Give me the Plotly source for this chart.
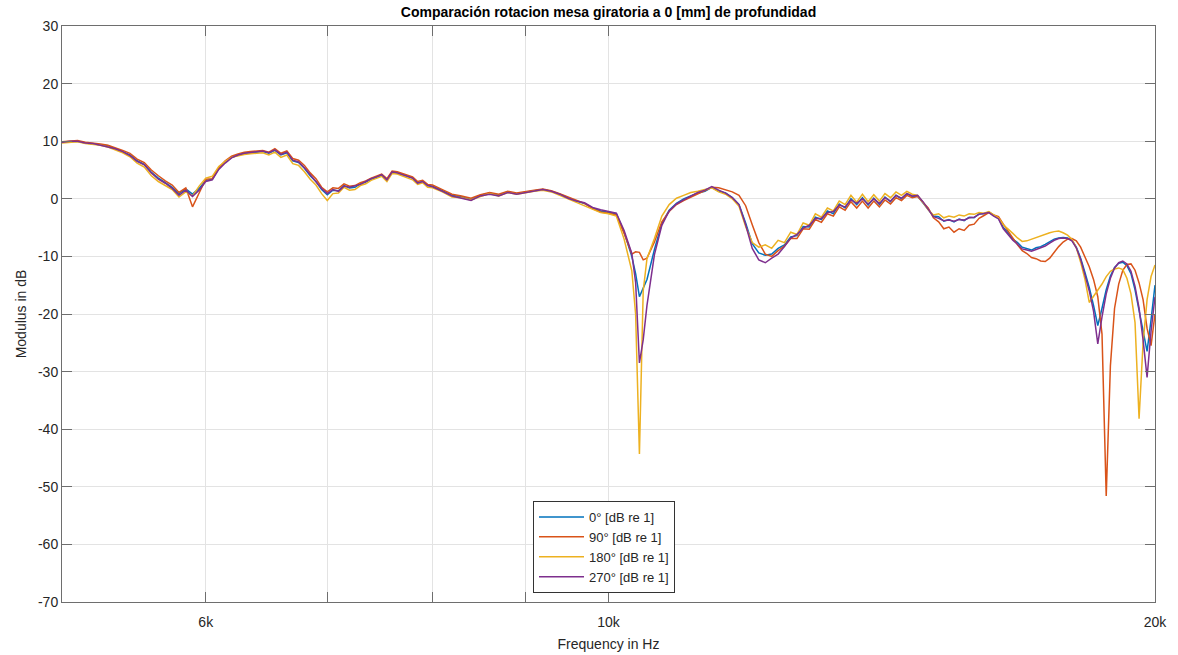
import plotly.graph_objects as go

# ---------------- data ----------------
freq_hz = [
    # 5000 - 8000 Hz
    5000, 5050, 5100, 5150, 5200, 5250, 5300, 5350, 5400, 5450,
    5500, 5550, 5600, 5650, 5700, 5750, 5800, 5850, 5900, 5950,
    6000, 6050, 6100, 6150, 6200, 6250, 6300, 6350, 6400, 6450,
    6500, 6550, 6600, 6650, 6700, 6750, 6800, 6850, 6900, 6950,
    7000, 7050, 7100, 7150, 7200, 7250, 7300, 7350, 7400, 7450,
    7500, 7550, 7600, 7650, 7700, 7750, 7800, 7850, 7900, 7950,
    8000,
    # 8100 - 10000 Hz
    8100, 8200, 8300, 8400, 8500, 8600, 8700, 8800, 8900, 9000,
    9100, 9200, 9300, 9400, 9500, 9600, 9700, 9800, 9900, 10000,
    # 10100 - 20000 Hz
    10100, 10200, 10300, 10350, 10400, 10450, 10500, 10600, 10700, 10800,
    10900, 11000, 11100, 11200, 11300, 11400, 11500, 11600, 11700, 11800,
    11900, 12000, 12100, 12200, 12300, 12400, 12500, 12600, 12700, 12800,
    12900, 13000, 13100, 13200, 13300, 13400, 13500, 13600, 13700, 13800,
    13900, 14000, 14100, 14200, 14300, 14400, 14500, 14600, 14700, 14800,
    14900, 15000, 15100, 15200, 15300, 15400, 15500, 15600, 15700, 15800,
    15900, 16000, 16100, 16200, 16300, 16400, 16500, 16600, 16700, 16800,
    16900, 17000, 17100, 17200, 17300, 17400, 17500, 17600, 17700, 17800,
    17900, 18000, 18100, 18200, 18300, 18400, 18500, 18600, 18700, 18800,
    18900, 19000, 19100, 19200, 19300, 19400, 19500, 19600, 19700, 19800,
    19900, 20000,
]

deg0_db = [
    9.8, 9.9, 10.0, 9.7, 9.6, 9.4, 9.2, 8.7, 8.2, 7.6,
    6.6, 6.0, 4.6, 3.6, 2.8, 2.0, 0.9, 1.7, 0.8, 1.8,
    3.2, 3.4, 5.3, 6.4, 7.2, 7.6, 7.9, 8.0, 8.1, 8.2,
    7.9, 8.4, 7.6, 8.0, 6.6, 6.3, 5.3, 4.0, 3.0, 1.6,
    0.7, 1.5, 1.4, 2.3, 1.9, 2.0, 2.6, 2.9, 3.4, 3.8,
    4.1, 3.2, 4.6, 4.5, 4.2, 4.0, 3.6, 2.8, 3.0, 2.3,
    2.2,
    1.4, 0.6, 0.3, -0.1, 0.6, 1.0, 0.6, 1.2, 0.9, 1.2,
    1.4, 1.6, 1.3, 0.8, 0.2, -0.4, -0.8, -1.6, -2.1, -2.3,
    -2.6, -5.8, -10.0, -13.0, -17.0, -15.5, -14.0, -8.8, -4.3, -2.0,
    -0.8, 0.0, 0.5, 1.0, 1.3, 2.0, 1.3, 1.0, 0.2, -1.0,
    -4.2, -7.8, -9.4, -9.8, -9.6, -8.6, -8.0, -6.6, -6.4, -4.8,
    -4.9, -3.2, -3.6, -2.1, -2.6, -0.9, -1.6, 0.0, -1.0, 0.2,
    -1.1, 0.1, -1.0, 0.3, -0.5, 0.6, 0.0, 0.9, 0.4, 0.5,
    -0.7, -1.8, -3.0, -3.1, -3.9, -3.6, -4.0, -3.5, -3.8, -3.2,
    -3.3, -2.6, -2.6, -2.3, -2.9, -3.4, -5.0, -5.9, -7.0, -7.6,
    -8.4, -8.6, -8.9, -8.5, -8.3, -7.9, -7.5, -7.0, -6.8, -6.7,
    -6.8, -7.2, -8.4, -10.3, -12.8, -15.4, -18.5, -22.0, -19.0, -15.8,
    -13.4, -11.9, -11.2, -11.0, -11.6, -13.0, -15.8, -19.5, -23.0, -26.5,
    -21.0, -15.0,
]

deg90_db = [
    9.9, 10.0, 10.1, 9.8, 9.7, 9.5, 9.3, 8.9, 8.4, 7.9,
    6.9, 6.3, 5.0, 4.0, 3.1, 2.4, 1.1, 1.9, -1.4, 1.0,
    3.4, 3.5, 5.4, 6.6, 7.4, 7.8, 8.1, 8.2, 8.3, 8.4,
    8.1, 8.7, 7.9, 8.3, 7.0, 6.7, 5.8, 4.5, 3.5, 2.0,
    1.2, 1.9, 1.8, 2.6, 2.2, 2.3, 2.8, 3.1, 3.6, 4.0,
    4.3, 3.5, 4.8, 4.7, 4.4, 4.2, 3.8, 3.0, 3.2, 2.5,
    2.4,
    1.6, 0.8, 0.5, 0.1, 0.7, 1.1, 0.8, 1.3, 1.0, 1.3,
    1.5, 1.7, 1.4, 0.9, 0.3, -0.3, -0.8, -1.7, -2.3, -2.5,
    -2.8, -6.0, -9.6, -9.2, -9.3, -10.6, -10.3, -7.5, -4.0, -2.2,
    -1.0, -0.3, 0.3, 0.9, 1.4, 2.0, 1.9, 1.6, 1.2, 0.6,
    -1.2, -4.5, -7.6, -9.6, -10.0, -9.0, -8.2, -6.9, -6.9, -5.2,
    -5.3, -3.6, -4.1, -2.6, -3.0, -1.4, -2.0, -0.5, -1.6, -0.4,
    -1.6, -0.4, -1.4, -0.2, -0.9, 0.2, -0.3, 0.6, 0.2, 0.4,
    -0.6, -1.6, -3.3, -4.0, -5.2, -4.9, -5.8, -5.2, -5.5, -4.6,
    -4.4, -3.4, -2.9, -2.4, -2.8, -3.1, -4.4, -5.6, -7.0, -8.0,
    -9.0, -9.5, -10.2, -10.4, -10.8, -10.9, -10.3, -9.2, -8.3, -7.5,
    -7.0, -6.9, -7.3, -8.4, -10.0, -11.8, -14.0, -17.0, -23.5, -51.6,
    -29.0, -19.0, -14.8, -12.4, -11.4, -11.3, -12.4, -14.6, -17.5, -22.5,
    -25.5, -20.0,
]

deg180_db = [
    9.7, 9.8, 9.9, 9.6, 9.5, 9.3, 9.0, 8.5, 8.0, 7.3,
    6.2, 5.5, 4.0, 3.0, 2.3, 1.6, 0.3, 1.2, 0.5, 2.2,
    3.6, 3.9, 5.6, 6.5, 7.2, 7.5, 7.7, 7.8, 7.9, 8.0,
    7.6, 8.1, 7.2, 7.6, 6.1, 5.8, 4.7, 3.4, 2.4, 0.9,
    -0.3, 0.9, 1.0, 2.0, 1.5, 1.6, 2.3, 2.6, 3.2, 3.6,
    3.9, 3.0, 4.4, 4.3, 4.0, 3.7, 3.3, 2.5, 2.8, 2.0,
    1.9,
    1.2, 0.3, 0.2, -0.2, 0.4, 0.9, 0.5, 1.1, 0.8, 1.1,
    1.3, 1.5, 1.2, 0.6, 0.0, -0.7, -1.2, -1.9, -2.4, -2.6,
    -3.0, -7.0, -12.5, -20.0, -44.3, -16.0, -10.4, -6.9, -3.0, -1.0,
    0.1, 0.6, 1.1, 1.3, 1.6, 1.9, 1.2, 0.8, 0.0, -1.3,
    -4.8, -7.6, -8.4, -8.0, -8.6, -7.2, -7.6, -5.8, -6.2, -4.2,
    -4.6, -2.6, -3.2, -1.6, -2.1, -0.4, -1.0, 0.6, -0.6, 0.8,
    -0.5, 0.7, -0.4, 0.9, 0.2, 1.2, 0.6, 1.3, 0.8, 0.6,
    -0.6, -1.9, -2.8, -2.6, -3.3, -3.0, -3.2, -2.8, -3.0, -2.6,
    -2.7, -2.4, -2.5, -2.2, -2.8, -3.3, -4.5, -5.2, -6.0, -6.8,
    -7.4, -7.3, -7.0, -6.8, -6.4, -6.2, -5.9, -5.7, -5.6, -5.9,
    -6.3, -7.0, -8.5, -11.0, -14.0, -18.0, -17.0, -16.0, -14.8, -13.5,
    -12.6, -12.2, -12.0, -12.3, -13.8, -16.5, -21.5, -38.2, -25.0, -17.5,
    -13.5, -11.5,
]

deg270_db = [
    9.8, 10.0, 10.0, 9.7, 9.6, 9.3, 9.1, 8.7, 8.2, 7.5,
    6.5, 5.9, 4.5, 3.4, 2.7, 1.8, 0.6, 1.5, 0.4, 1.5,
    3.0, 3.3, 5.1, 6.2, 7.1, 7.6, 7.9, 8.0, 8.2, 8.3,
    8.0, 8.5, 7.7, 8.1, 6.7, 6.4, 5.4, 4.2, 3.1, 1.8,
    0.9, 1.6, 1.3, 2.2, 2.0, 2.2, 2.5, 3.0, 3.5, 3.8,
    4.2, 3.3, 4.7, 4.5, 4.2, 3.9, 3.6, 2.7, 3.0, 2.3,
    2.1,
    1.3, 0.5, 0.1, -0.3, 0.5, 0.8, 0.5, 1.1, 0.8, 1.1,
    1.4, 1.6, 1.3, 0.8, 0.1, -0.4, -0.7, -1.5, -1.9, -2.2,
    -2.5, -5.5, -9.5, -14.5, -28.5, -24.5, -18.5, -9.7, -4.6, -2.1,
    -0.9, -0.2, 0.4, 1.1, 1.5, 2.1, 1.5, 1.0, 0.2, -1.0,
    -4.5, -8.6, -10.6, -11.1, -10.3, -9.6, -8.3, -6.8, -6.2, -5.1,
    -4.6, -3.4, -3.4, -2.4, -2.2, -1.1, -1.4, -0.2, -0.8, 0.0,
    -0.9, 0.0, -0.8, 0.2, -0.4, 0.6, 0.1, 0.9, 0.5, 0.6,
    -0.5, -1.9, -3.1, -3.4, -3.8, -3.7, -3.9, -3.6, -3.7, -3.3,
    -3.2, -2.7, -2.6, -2.4, -3.0, -3.5, -5.2, -6.2, -7.2, -7.9,
    -8.7, -8.9, -9.1, -8.8, -8.5, -8.2, -7.7, -7.2, -6.9, -6.8,
    -6.9, -7.3, -8.5, -10.5, -13.2, -16.0, -19.5, -25.2, -20.5, -16.5,
    -13.8, -12.0, -11.1, -10.8, -11.3, -12.6, -15.2, -19.0, -24.5, -31.0,
    -23.0, -17.0,
]

series_names = ["0° [dB re 1]", "90° [dB re 1]", "180° [dB re 1]", "270° [dB re 1]"]
series_values = [deg0_db, deg90_db, deg180_db, deg270_db]
series_colors = ["#0072BD", "#D95319", "#EDB120", "#7E2F8E"]

x_tick_vals = [6000, 7000, 8000, 9000, 10000, 20000]
x_tick_text = ["6k", "", "", "", "10k", "20k"]
y_tick_vals = [-70, -60, -50, -40, -30, -20, -10, 0, 10, 20, 30]
y_tick_text = ["-70", "-60", "-50", "-40", "-30", "-20", "-10", "0", "10", "20", "30"]

# ---------------- figure ----------------
FONT = "Liberation Sans, Arial, Helvetica, sans-serif"
fig = go.Figure()
for name, vals, col in zip(series_names, series_values, series_colors):
    fig.add_trace(go.Scatter(
        x=freq_hz, y=vals, mode="lines", name=name,
        line=dict(color=col, width=1.5),
    ))

axis_common = dict(
    showline=True, linecolor="#6e6e6e", linewidth=1, mirror="allticks",
    ticks="inside", ticklen=10, tickcolor="#6e6e6e", tickwidth=1,
    showgrid=True, gridcolor="#e3e3e3", gridwidth=1, zeroline=False,
    tickfont=dict(family=FONT, size=14, color="#262626"),
    automargin=False,
)

fig.update_layout(
    width=1178, height=655,
    margin=dict(l=62, r=23, t=26, b=53),
    paper_bgcolor="white", plot_bgcolor="white",
    font=dict(family=FONT, color="#262626"),
    title=dict(
        text="Comparación rotacion mesa giratoria a 0 [mm] de profundidad",
        font=dict(family=FONT, size=14, color="#000000", weight="bold"),
        x=0.5, xref="paper", xanchor="center",
        y=1 - 12 / 655, yref="container", yanchor="middle",
    ),
    xaxis=dict(
        type="log", range=[3.69897, 4.30103],
        tickvals=x_tick_vals, ticktext=x_tick_text, ticklabelstandoff=7,
        title=dict(text="Frequency in Hz", font=dict(family=FONT, size=14, color="#262626"), standoff=10),
        **axis_common,
    ),
    yaxis=dict(
        range=[-70, 30], tickvals=y_tick_vals, ticktext=y_tick_text,
        title=dict(text="Modulus in dB", font=dict(family=FONT, size=14, color="#262626"), standoff=8),
        **axis_common,
    ),
    legend=dict(
        x=(533 - 62) / 1093, y=(602 - 501) / 576, xanchor="left", yanchor="top",
        bgcolor="white", bordercolor="#333333", borderwidth=1,
        font=dict(family=FONT, size=13, color="#262626"),
        itemwidth=45, tracegroupgap=0,
    ),
    showlegend=True,
)

fig.write_html("out.html")
